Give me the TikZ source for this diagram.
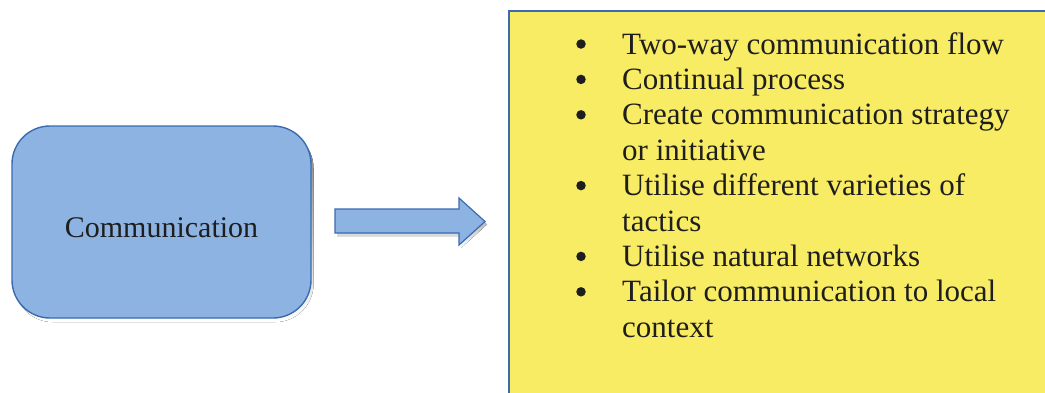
\documentclass[tikz,border=0pt]{standalone}
\usepackage{fontspec}
\setmainfont{Liberation Serif}
\definecolor{boxblue}{RGB}{141,179,226}
\definecolor{edgeblue}{RGB}{58,107,176}
\definecolor{boxyellow}{RGB}{248,236,101}
\definecolor{ink}{RGB}{30,30,30}
\definecolor{shade}{RGB}{205,205,205}
\tikzset{
  txt/.style={font=\fontsize{31}{35.4}\selectfont, text=ink, inner sep=0pt, anchor=base west},
  bul/.style={circle, fill=ink, inner sep=0pt, minimum size=9.5pt},
  commbox/.style={draw=edgeblue, fill=boxblue, line width=1.4pt, rounded corners=38pt,
    minimum width=299pt, minimum height=192pt, inner sep=0pt, text height=30pt, text depth=0pt,
    font=\fontsize{30}{35.4}\selectfont, text=ink},
}
\begin{document}
\begin{tikzpicture}[x=1pt,y=-1pt]
\clip (0,0) rectangle (1045,392);
\fill[white] (0,0) rectangle (1045,392);
% shadow of the box
\fill[shade, rounded corners=38pt] (14.5,130) rectangle (313.5,322);
\node[commbox] (comm) at (161.5,222) {Communication};
% block arrow
\fill[shade] (337,212) -- (461,212) -- (461,201) -- (487,224.5) -- (461,248) -- (461,236) -- (337,236) -- cycle;
\draw[edgeblue, fill=boxblue, line width=1.2pt, line join=miter]
  (335,209) -- (459,209) -- (459,198) -- (485,221.5) -- (459,245) -- (459,233) -- (335,233) -- cycle;
% yellow box
\draw[edgeblue, fill=boxyellow, line width=1.5pt] (509,11) rectangle (1070,420);
% list
\node[bul] (b1) at (581,44) {};
\node[txt] (l1) at (622,54) {Two-way communication flow};
\node[bul] (b2) at (581,79.4) {};
\node[txt] (l2) at (622,89.4) {Continual process};
\node[bul] (b3) at (581,114.8) {};
\node[txt] (l3) at (622,124.8) {Create communication strategy};
\node[txt] (l4) at (622,160.2) {or initiative};
\node[bul] (b4) at (581,185.6) {};
\node[txt] (l5) at (622,195.6) {Utilise different varieties of};
\node[txt] (l6) at (622,231) {tactics};
\node[bul] (b5) at (581,256.4) {};
\node[txt] (l7) at (622,266.4) {Utilise natural networks};
\node[bul] (b6) at (581,291.8) {};
\node[txt] (l8) at (622,301.8) {Tailor communication to local};
\node[txt] (l9) at (622,337.2) {context};
\end{tikzpicture}
\end{document}
